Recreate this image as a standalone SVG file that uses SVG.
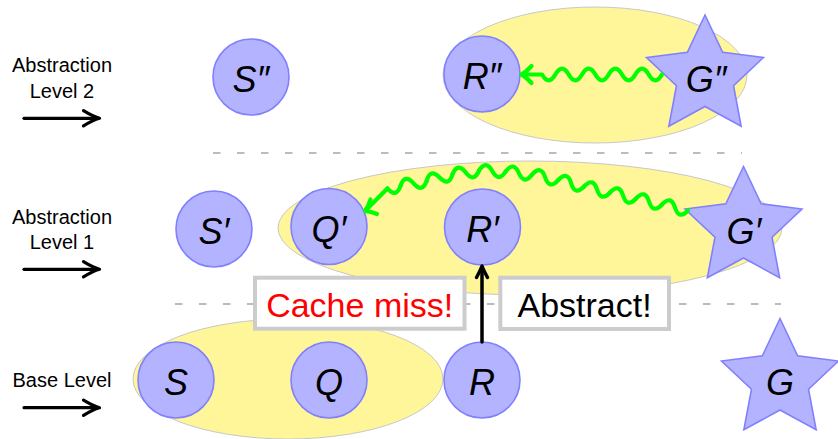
<svg xmlns="http://www.w3.org/2000/svg" width="838" height="439" viewBox="0 0 838 439">
<style>
.shape { fill:#b3b3ff; stroke:#8080ff; stroke-width:1.6; }
.lbl { font-family:"Liberation Sans", Arial, sans-serif; font-style:italic; font-size:36px; text-anchor:middle; fill:#000; }
.side { font-family:"Liberation Sans", Arial, sans-serif; font-size:20px; text-anchor:middle; fill:#000; }
.region { fill:#fff599; stroke:#c8c8c8; stroke-width:1; }
.sep { stroke:#a6a6a6; stroke-width:1.3; stroke-dasharray:7.5 16.5; fill:none; }
.snake { fill:none; stroke:#00ff00; stroke-width:4.2; stroke-linecap:round; stroke-linejoin:round; }
.blk { fill:none; stroke:#000; stroke-width:3.4; stroke-linecap:round; stroke-linejoin:round; }
.box { fill:#fff; stroke:#cccccc; stroke-width:4; }
.boxtxt { font-family:"Liberation Sans", Arial, sans-serif; font-size:34px; text-anchor:middle; }
</style>
<defs>
  <polygon id="star" points="0,-61.5 17.63,-24.27 58.49,-19 28.53,9.27 36.15,49.75 0,30 -36.15,49.75 -28.53,9.27 -58.49,-19 -17.63,-24.27"/>
  <path id="wave" d="M0,0 Q6.667,-11.6 13.333,0 Q20,11.6 26.667,0"/>
  <path id="half" d="M0,0 Q6.667,-11.6 13.333,0"/>
</defs>
<rect width="838" height="439" fill="#fff"/>

<g id="regions">
  <ellipse class="region" cx="595" cy="75" rx="152" ry="68"/>
  <ellipse class="region" cx="530" cy="228" rx="252" ry="67"/>
  <ellipse class="region" cx="288" cy="379" rx="155" ry="60"/>
</g>

<g id="separators">
  <line class="sep" x1="213" y1="153" x2="742" y2="153"/>
  <line class="sep" x1="175" y1="304" x2="781" y2="304"/>
</g>

<g id="level-labels">
  <text class="side" x="62" y="72.3">Abstraction</text>
  <text class="side" x="62" y="98.3">Level 2</text>
  <text class="side" x="62" y="224.3">Abstraction</text>
  <text class="side" x="62" y="249.3">Level 1</text>
  <text class="side" x="62" y="387.3">Base Level</text>
  <g class="blk" style="stroke-width:3.2">
    <line x1="24" y1="118.3" x2="97" y2="118.3"/>
    <path d="M83.5,110.7 Q93,116.5 99.5,118.3 Q93,120.1 83.5,125.9"/>
    <line x1="24" y1="269.3" x2="97" y2="269.3"/>
    <path d="M83.5,261.7 Q93,267.5 99.5,269.3 Q93,271.1 83.5,276.9"/>
    <line x1="24" y1="407.7" x2="97" y2="407.7"/>
    <path d="M83.5,400.1 Q93,405.9 99.5,407.7 Q93,409.5 83.5,415.3"/>
  </g>
</g>

<g id="node-S2"><circle class="shape" cx="251" cy="77" r="38"/><text class="lbl" x="251" y="92">S″</text></g>
<g id="node-R2"><circle class="shape" cx="482" cy="74" r="38"/><text class="lbl" x="482" y="89">R″</text></g>
<g id="node-G2"><use href="#star" class="shape" transform="translate(705,76.5)"/><text class="lbl" x="706" y="92">G″</text></g>

<g id="node-S1"><circle class="shape" cx="214" cy="229" r="38"/><text class="lbl" x="214" y="244">S′</text></g>
<g id="node-Q1"><circle class="shape" cx="329" cy="226.5" r="38"/><text class="lbl" x="329" y="241.5">Q′</text></g>
<g id="node-R1"><circle class="shape" cx="482.5" cy="227" r="38"/><text class="lbl" x="482.5" y="242">R′</text></g>
<g id="node-G1"><use href="#star" class="shape" transform="translate(743.5,228)"/><text class="lbl" x="744" y="243.5">G′</text></g>

<g id="node-S"><circle class="shape" cx="176" cy="380" r="38"/><text class="lbl" x="176" y="395">S</text></g>
<g id="node-Q"><circle class="shape" cx="329" cy="380" r="38"/><text class="lbl" x="329" y="395">Q</text></g>
<g id="node-R"><circle class="shape" cx="482" cy="380" r="38"/><text class="lbl" x="482" y="395">R</text></g>
<g id="node-G"><use href="#star" class="shape" transform="translate(780,380)"/><text class="lbl" x="780" y="394.5">G</text></g>

<g id="label-cache-miss">
  <rect class="box" x="255" y="277.7" width="209.5" height="51"/>
  <text class="boxtxt" x="359.7" y="316.7" fill="#ff0000">Cache miss!</text>
</g>
<g id="label-abstract">
  <rect class="box" x="500.3" y="277.7" width="168.7" height="51.3"/>
  <text class="boxtxt" x="584.6" y="316.7" fill="#000">Abstract!</text>
</g>

<g id="connectors">
  <g id="edge-R-R1" class="blk" style="stroke-width:3.5">
    <line x1="482" y1="342" x2="482" y2="268"/>
    <path d="M476.5,277.5 Q480.5,270 482,266 Q483.5,270 487.5,277.5"/>
  </g>
  <g id="edge-G2-R2" class="snake">
    <path d="M662,74.5 Q655.33,86.1 648.67,74.5 Q642,62.9 635.33,74.5 Q628.67,86.1 622,74.5 Q615.33,62.9 608.67,74.5 Q602,86.1 595.33,74.5 Q588.67,62.9 582,74.5 Q575.33,86.1 568.67,74.5 Q562,62.9 555.33,74.5 Q548.67,86.1 542,74.5 L523,74.5"/>
    <path d="M531.5,66 Q525.5,72.5 521.5,74.5 Q525.5,76.5 531.5,83"/>
  </g>
  <g id="edge-G1-Q1" class="snake">
    <use href="#wave" transform="translate(688,210.5) rotate(193)"/>
    <use href="#wave" transform="translate(662.017,204.501) rotate(193)"/>
    <use href="#wave" transform="translate(636.034,198.502) rotate(193)"/>
    <use href="#wave" transform="translate(610.051,192.503) rotate(193)"/>
    <use href="#wave" transform="translate(584.068,186.504) rotate(194)"/>
    <use href="#wave" transform="translate(558.193,180.053) rotate(191.8)"/>
    <use href="#wave" transform="translate(532.09,174.6) rotate(186.7)"/>
    <use href="#wave" transform="translate(505.605,171.489) rotate(181.8)"/>
    <use href="#wave" transform="translate(478.951,170.651) rotate(172.35)"/>
    <use href="#wave" transform="translate(452.521,174.201) rotate(165.67)"/>
    <use href="#wave" transform="translate(426.684,180.802) rotate(169)"/>
    <use href="#half" transform="translate(400.507,185.89) rotate(169)"/>
    <path d="M387.42,188.43 L366,210"/>
    <path d="M370.5,199.5 Q368.5,206 365,211 Q371,211.5 377,214"/>
  </g>
</g>
</svg>
